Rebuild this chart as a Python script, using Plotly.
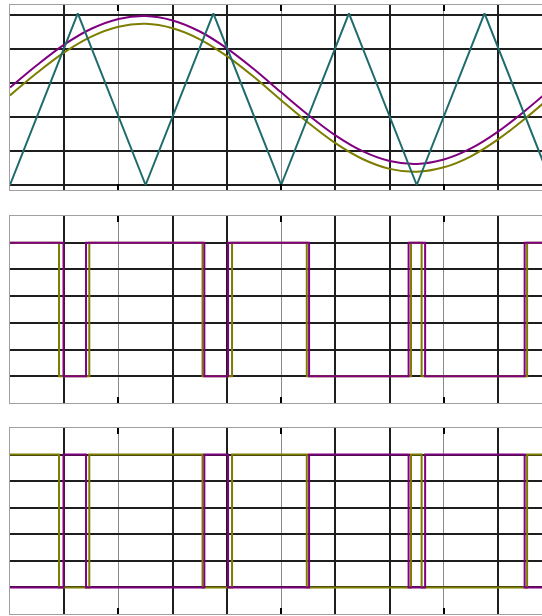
import plotly.graph_objects as go

# Time axis in ms; one grid division = 2 ms
t_ref = [0, 1, 2, 3, 4, 5, 6, 7, 8, 9, 10, 11, 12, 13, 14, 15, 16, 17, 18, 19, 20]

# Reference (modulating) sine waves, phase A and phase B
ref_a = [0.573, 0.706, 0.826, 0.919, 0.977, 0.994, 0.968, 0.903, 0.804, 0.681,
         0.545, 0.412, 0.292, 0.199, 0.141, 0.124, 0.150, 0.215, 0.314, 0.437, 0.573]
ref_b = [0.527, 0.660, 0.780, 0.873, 0.931, 0.948, 0.922, 0.857, 0.758, 0.635,
         0.499, 0.366, 0.246, 0.153, 0.095, 0.078, 0.104, 0.169, 0.268, 0.391, 0.527]

# Triangular carrier vertices
t_carrier = [0, 2.5, 5, 7.5, 10, 12.5, 15, 17.5, 20]
carrier = [0, 1.01, 0, 1.01, 0, 1.01, 0, 1.01, 0]

# Switching instants (ms) of the PWM outputs, both starting high
edges_a = [1.974, 2.804, 7.168, 8.042, 11.03, 14.70, 15.31, 18.98]
edges_b = [1.808, 2.925, 7.101, 8.189, 10.945, 14.79, 15.18, 19.07]
t_end = 20.0

PURPLE = "#800080"
OLIVE = "#7d7d00"
TEAL = "#1f6b6b"
GRID_DARK = "#1e1e1e"
GRID_LIGHT = "#8a8a8a"
FRAME = "#a0a0a0"


def pwm_steps(edges, start_level):
    xs, ys = [0.0], [start_level]
    level = start_level
    for e in edges:
        level = 1 - level
        xs.append(e)
        ys.append(level)
    xs.append(t_end)
    ys.append(level)
    return xs, ys


xa, ya = pwm_steps(edges_a, 1)
xb, yb = pwm_steps(edges_b, 1)
ya_inv = [1 - v for v in ya]

fig = go.Figure()

# Top panel: references and carrier
fig.add_trace(go.Scatter(x=t_ref, y=ref_b, mode="lines", line=dict(color=OLIVE, width=2, shape="spline"),
                         xaxis="x", yaxis="y"))
fig.add_trace(go.Scatter(x=t_ref, y=ref_a, mode="lines", line=dict(color=PURPLE, width=2, shape="spline"),
                         xaxis="x", yaxis="y"))
fig.add_trace(go.Scatter(x=t_carrier, y=carrier, mode="lines", line=dict(color=TEAL, width=2),
                         xaxis="x", yaxis="y"))

# Middle panel: gate signals
fig.add_trace(go.Scatter(x=xb, y=yb, mode="lines", line=dict(color=OLIVE, width=2, shape="hv"),
                         xaxis="x2", yaxis="y2"))
fig.add_trace(go.Scatter(x=xa, y=ya, mode="lines", line=dict(color=PURPLE, width=2, shape="hv"),
                         xaxis="x2", yaxis="y2"))

# Bottom panel: phase B signal with complementary phase A signal
fig.add_trace(go.Scatter(x=xb, y=yb, mode="lines", line=dict(color=OLIVE, width=2, shape="hv"),
                         xaxis="x3", yaxis="y3"))
fig.add_trace(go.Scatter(x=xa, y=ya_inv, mode="lines", line=dict(color=PURPLE, width=2, shape="hv"),
                         xaxis="x3", yaxis="y3"))

H = 616.0


def dom(top_px, bottom_px):
    return [1 - bottom_px / H, 1 - top_px / H]


x_common = dict(
    range=[0, 19.62], showticklabels=False, zeroline=False,
    tickmode="array", tickvals=[2, 6, 8, 12, 14, 18],
    showgrid=True, gridcolor=GRID_DARK, gridwidth=2,
    ticks="inside", ticklen=6, tickcolor=GRID_DARK, tickwidth=2,
    minor=dict(tickmode="array", tickvals=[4, 10, 16], showgrid=True,
               gridcolor=GRID_LIGHT, gridwidth=1, ticks="inside", ticklen=6,
               tickcolor="#000000", tickwidth=2),
    showline=True, linecolor=FRAME, linewidth=1, mirror="ticks",
    fixedrange=True,
)
y_common = dict(
    showticklabels=False, zeroline=False, tickmode="array",
    tickvals=[0, 0.2, 0.4, 0.6, 0.8, 1.0],
    showgrid=True, gridcolor=GRID_DARK, gridwidth=2, ticks="",
    showline=True, linecolor=FRAME, linewidth=1, mirror=False,
    fixedrange=True,
)

fig.update_layout(
    width=542, height=616, autosize=False,
    margin=dict(l=10, r=0, t=0, b=0),
    paper_bgcolor="white", plot_bgcolor="white",
    showlegend=False,
    xaxis=dict(x_common, domain=[0, 1], anchor="y"),
    xaxis2=dict(x_common, domain=[0, 1], anchor="y2"),
    xaxis3=dict(x_common, domain=[0, 1], anchor="y3"),
    yaxis=dict(y_common, domain=dom(5, 190), range=[-0.0294, 1.0588], anchor="x"),
    yaxis2=dict(y_common, domain=dom(216, 403), range=[-0.2, 1.2], anchor="x2"),
    yaxis3=dict(y_common, domain=dom(428, 614), range=[-0.2, 1.2], anchor="x3"),
)

fig.write_html("out.html")
